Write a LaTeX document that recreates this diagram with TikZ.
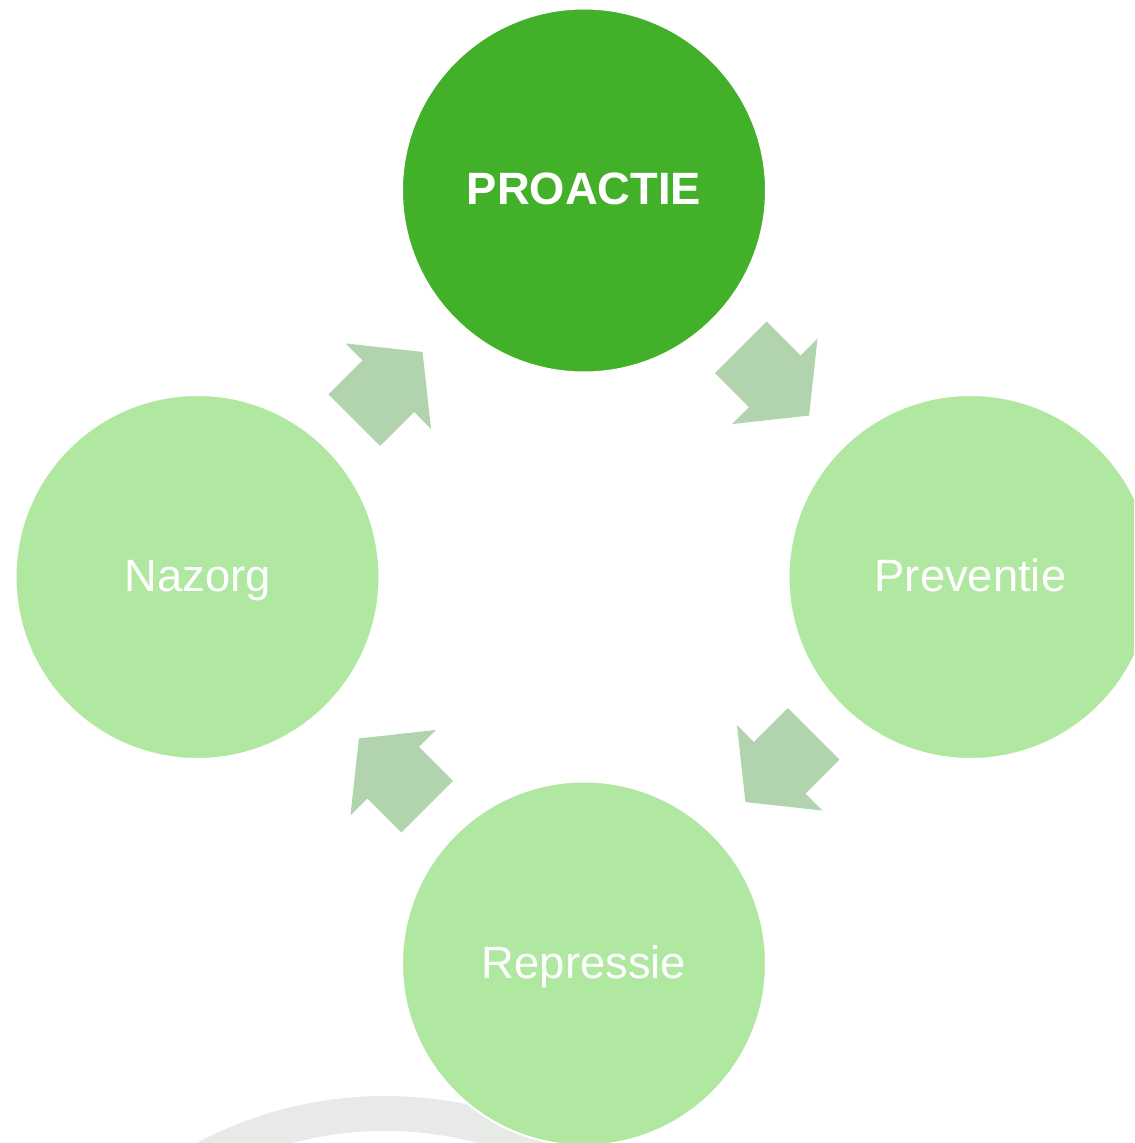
\documentclass[tikz,border=0pt]{standalone}
\usepackage{fontspec}
\setmainfont{Liberation Sans}
\usetikzlibrary{positioning, calc}

\definecolor{proactgreen}{HTML}{43B02A}
\definecolor{phasegreen}{HTML}{B1E8A1}
\definecolor{arrowgreen}{HTML}{B1D4AF}
\definecolor{ringgrey}{HTML}{E8EAE8}

\begin{document}
\begin{tikzpicture}[font=\fontsize{25.8}{30}\selectfont]
	\def\radius{3.64}
	\def\dist{7.73}
		\tikzset	{
		phase/.style={circle, minimum size=2*\radius cm, inner sep=0pt, text height=0.58cm, text depth=0cm, fill=phasegreen, text=white, draw=white, line width=0.04cm},
		cyclearrow/.pic={
			code={
				\fill[arrowgreen]	(-1.03,0.73) -- (-0.07,0.73) -- (-0.07,1.21) -- (0.90,0) -- (-0.07,-1.21) -- (-0.07,-0.73) -- (-1.03,-0.73) -- cycle;
			}
		},
	}
	
	\useasboundingbox (-11.68,-11.32) rectangle (11.00,11.54);
	\clip (-11.68,-11.32) rectangle (11.00,11.54);
	
	\fill[ringgrey, even odd rule]	(-3.98,-18.38) circle (8.0) (-3.98,-18.38) circle (7.3);
	
	\node[phase, fill=proactgreen, font=\fontsize{25.8}{30}\selectfont\bfseries] (proactie) at (0,\dist) {PROACTIE};
	\node[phase] (preventie) at (\dist,0) {Preventie};
	\node[phase] (repressie) at (0,-\dist) {Repressie};
	\node[phase] (nazorg) at (-\dist,0) {Nazorg};
	
	\pic[rotate=-45] at ($(proactie)!0.5!(preventie)$) {cyclearrow};
	\pic[rotate=-135] at ($(preventie)!0.5!(repressie)$) {cyclearrow};
	\pic[rotate=135] at ($(repressie)!0.5!(nazorg)$) {cyclearrow};
	\pic[rotate=45] at ($(nazorg)!0.5!(proactie)$) {cyclearrow};
\end{tikzpicture}
\end{document}
